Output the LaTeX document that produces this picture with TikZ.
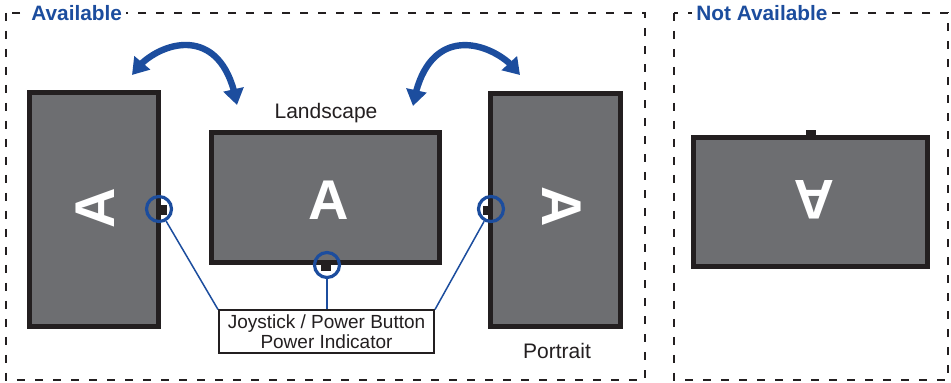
\documentclass[tikz,border=0pt]{standalone}
\usepackage{fontspec}
\setmainfont{Liberation Sans}
\usepackage{tikz}
\usetikzlibrary{arrows.meta}
\usetikzlibrary{bending}
\usetikzlibrary{calc}
\definecolor{scrgray}{HTML}{6D6E71}
\definecolor{frame}{HTML}{231F20}
\definecolor{brandblue}{HTML}{1C4D9E}
\tikzset{
  zone/.style={draw=frame, line width=1pt, dash pattern=on 4pt off 5pt},
  zonelabel/.style={anchor=west, fill=white, inner xsep=2pt, inner ysep=1pt, text=brandblue, font=\bfseries\fontsize{10.4}{12}\selectfont},
  monitor/.style={draw=frame, fill=scrgray, line width=2.5pt, inner sep=0pt},
  bigA/.style={text=white, inner sep=0pt, font=\bfseries\fontsize{28}{30}\selectfont},
  btn/.style={circle, draw=brandblue, line width=1.6pt, minimum size=12.5pt, inner sep=0pt},
  lead/.style={draw=brandblue, line width=.75pt},
  turn/.style={draw=brandblue, line width=3.2pt, {Triangle[length=8pt, width=10pt]}-{Triangle[length=8pt, width=10pt]}},
  caption/.style={inner sep=0pt, text=frame, font=\fontsize{10.5}{12}\selectfont}
}

\begin{document}
\begin{tikzpicture}[x=.5pt, y=-.5pt]
\useasboundingbox[fill=white] (0,0) rectangle (951,383);
\draw[zone] (6,13) rectangle (645,380);
\draw[zone] (674,13) rectangle (948,380);
\node[zonelabel] (avail) at (27,13) {Available};
\node[zonelabel] (notavail) at (692,13) {Not Available};

\node[monitor, minimum width=64.5pt, minimum height=117pt] (portl) at (94,209.5) {};
\node[monitor, minimum width=114pt, minimum height=65pt] (land) at (325.5,197.5) {};
\node[monitor, minimum width=65pt, minimum height=116.5pt] (portr) at (555.5,210) {};
\node[monitor, minimum width=117pt, minimum height=64.5pt] (flip) at (810.5,202) {};

\node[bigA, rotate=90] (al) at (95,208) {A};
\node[bigA] (am) at (329,200) {A};
\node[bigA, rotate=-90] (ar) at (562,207) {A};
\node[bigA, rotate=180] (af) at (814,200) {A};

\fill[frame] (158,205) rectangle (167,215);
\fill[frame] (321,263) rectangle (331,271);
\fill[frame] (483,206) rectangle (492,215);
\fill[frame] (806,130) rectangle (816,137);

\node[btn] (lbtn) at (159,209) {};
\node[btn] (mbtn) at (327,265) {};
\node[btn] (rbtn) at (491,209) {};

\node[draw=frame, line width=1pt, fill=white, minimum width=107.5pt, minimum height=21.5pt, inner sep=0pt, align=center, text=frame, font=\fontsize{9.5}{8.6}\selectfont] (info) at (326.5,332) {Joystick / Power Button\\Power Indicator};
\draw[lead] (lbtn) -- (info.north west);
\draw[lead] (mbtn) -- (mbtn |- info.north);
\draw[lead] (rbtn) -- (info.north east);

\node[caption] (landcap) at (326,113) {Landscape};
\node[caption] (portcap) at (557,351) {Portrait};

\coordinate (tl1) at (132,75);
\coordinate (tl2) at (237,105);
\coordinate (tr1) at (413,106);
\coordinate (tr2) at (520,75);
\draw[turn] (tl1) .. controls (150,45) and (222,15) .. (tl2);
\draw[turn] (tr1) .. controls (428,15) and (500,45) .. (tr2);
\end{tikzpicture}
\end{document}
